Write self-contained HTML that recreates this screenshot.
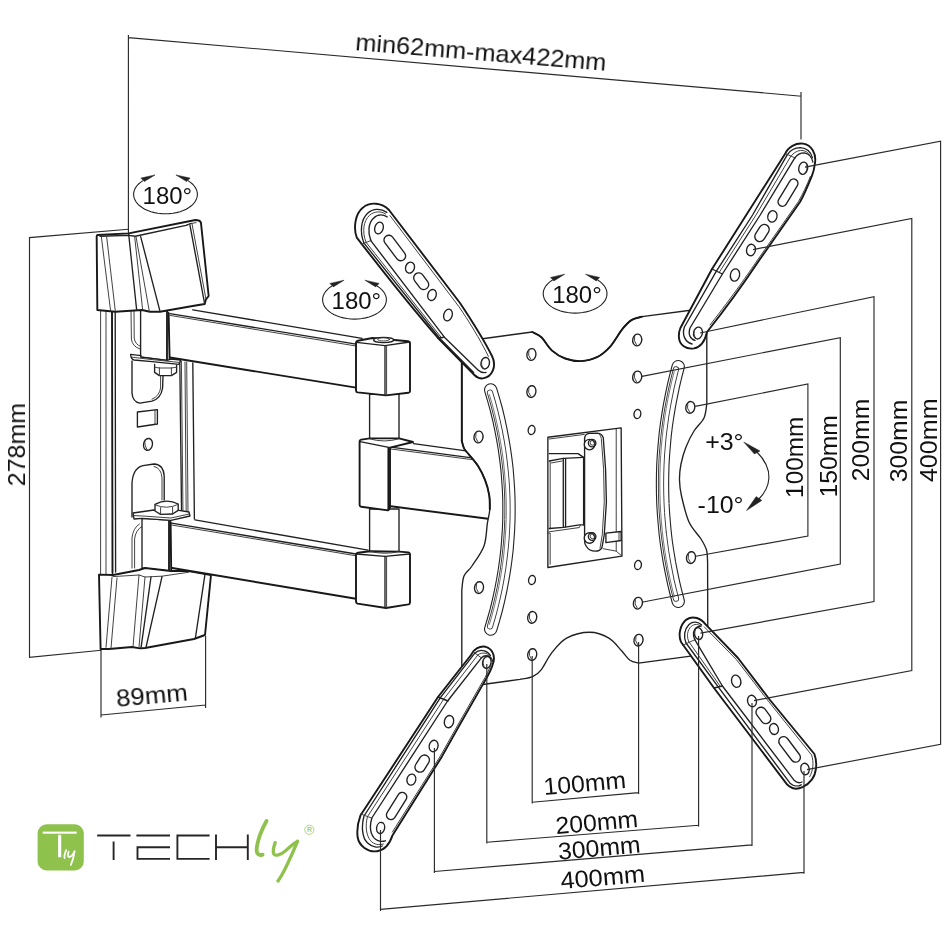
<!DOCTYPE html>
<html><head><meta charset="utf-8">
<style>
html,body{margin:0;padding:0;background:#fff;}
body{width:945px;height:945px;overflow:hidden;font-family:"Liberation Sans",sans-serif;}
svg{display:block;position:absolute;left:0;top:0;}
.k{fill:none;stroke:#181818;stroke-width:1.9;stroke-linejoin:round;stroke-linecap:round;vector-effect:non-scaling-stroke;}
.m{fill:none;stroke:#202020;stroke-width:1.35;stroke-linejoin:round;stroke-linecap:round;vector-effect:non-scaling-stroke;}
.t{fill:none;stroke:#383838;stroke-width:0.95;stroke-linejoin:round;stroke-linecap:round;vector-effect:non-scaling-stroke;}
.d{fill:none;stroke:#2a2a2a;stroke-width:1.15;vector-effect:non-scaling-stroke;}
.w{fill:#fff;}
text{font-family:"Liberation Sans",sans-serif;fill:#111;}
#labels,#logo{opacity:0.999;}
</style></head>
<body>
<svg width="945" height="945" viewBox="0 0 945 945">
<rect width="945" height="945" fill="#fff"/>
<g id="bracket">
<!-- body verticals (actual coords) -->
<path class="t" d="M100.6,310 L100.6,575 M106,310 L106,575"/>
<path class="k" d="M112,310 L112.5,573"/>
<path class="m" d="M115.2,311 L115.6,572"/>
<path class="m" d="M179.8,361 L181.6,517"/>
<path class="t" d="M181.4,361 L183,516 M185,362 L186.2,515 M186.7,362 L188,514"/>
<path class="m" d="M192.8,363 L194.4,519"/>
<!-- tile B : origin 85,300 -->
<g transform="translate(85,300) scale(0.2)">
 <!-- upper U slot behind pivot -->
 <path class="t" d="M230,50 L232,195 Q236,232 275,245"/>
 <path class="t" d="M245,50 L246,190 Q250,222 278,232"/>
 <!-- upper pivot block -->
 <path class="m w" d="M278,50 L410,50 L410,302 L278,285 Z"/>
 <path class="k" d="M410,50 L410,302"/>
 <!-- tab plate -->
 <path class="m w" d="M228,272 L280,278 L278,286 L410,302 L430,296 L478,300 L470,322 L335,308 L245,300 Q230,296 228,272 Z"/>
 <path class="t" d="M236,286 L335,298 L470,312"/>
 <!-- lower U slot under tab -->
 <path class="m" d="M235,305 L235,465 Q238,510 275,516 L335,506 Q380,492 388,440 L390,380"/>
 <path class="t" d="M378,380 L378,440 Q372,480 335,496"/>
 <!-- nut -->
 <path class="m w" d="M348,322 L348,362 L372,378 L432,378 L458,362 L458,326"/>
 <path class="t" d="M372,338 L372,378 M432,338 L432,378 M348,336 L372,340 L432,340 L458,336"/>
 <!-- small rect -->
 <path class="m" d="M262,560 L362,548 L362,620 L262,635 Z"/>
 <path class="t" d="M350,550 L350,621"/>
 <!-- small hole -->
 <ellipse class="m" cx="315" cy="722" rx="22" ry="30" transform="rotate(12 315 722)"/>
 <path class="t" d="M300,700 Q296,730 312,750"/>
</g>
<!-- tile C : origin 85,440 -->
<g transform="translate(85,440) scale(0.2)">
 <!-- lower inverted U slot -->
 <path class="m" d="M235,385 L235,215 Q240,140 290,128 L345,120 Q392,122 396,180 L396,300"/>
 <path class="t" d="M385,300 L385,190 Q382,140 345,132"/>
 <!-- lower behind slot -->
 <path class="t" d="M235,640 L235,490 Q240,440 272,420"/>
 <path class="t" d="M248,640 L248,495 Q252,452 285,432"/>
 <!-- lower pivot block -->
 <path class="m w" d="M285,392 L420,400 L420,655 L285,640 Z"/>
 <path class="k" d="M420,400 L420,655"/>
 <!-- tab plate -->
 <path class="m w" d="M240,365 L345,350 L470,352 L520,360 L525,380 L430,402 L285,392 L245,395 Z"/>
 <path class="t" d="M245,378 L290,380 L430,390 L522,370"/>
 <!-- nut -->
 <path class="m w" d="M350,322 L350,355 L378,372 L438,370 L466,352 L466,320 Q408,290 350,322 Z"/>
 <path class="t" d="M350,324 Q408,350 466,322 M378,338 L378,372 M438,336 L438,370"/>
</g>
<!-- top cap : origin 90,212 scale 1/7.5 -->
<g transform="translate(90,212) scale(0.13333)">
 <path class="k w" d="M58,172 Q50,174 50,184 L55,735 L190,748 L390,735 L450,748 L525,748 L770,705 L860,690 L870,655 L890,630 L832,80 Q825,60 790,60 L290,160 Z"/>
 <path class="m" d="M75,182 L290,175 L340,182 L720,100 L760,86"/>
 <path class="t" d="M85,185 L155,745 M125,185 L190,745"/>
 <path class="m" d="M290,165 L350,735"/>
 <path class="t" d="M335,185 L395,735 M345,185 L445,745"/>
 <path class="m" d="M380,185 L525,745"/>
 <path class="m" d="M750,100 L860,690"/>
 <path class="t" d="M765,88 L870,655 M722,100 L760,86 L795,80"/>
</g>
<!-- bottom cap : tile D origin 85,545 -->
<g transform="translate(85,545) scale(0.2)">
 <path class="k w" d="M70,148 L140,150 L270,125 L300,115 L430,130 L520,130 L630,150 L600,450 L545,470 L300,515 L275,517 L235,510 L120,520 L78,520 Z"/>
 <path class="t" d="M140,158 L270,150 L300,160 L385,156 L520,136"/>
 <path class="t" d="M135,160 L105,512 M160,165 L130,516 M270,150 L240,510 M300,160 L270,512"/>
 <path class="m" d="M330,160 L280,514 M385,158 L305,512"/>
 <path class="m" d="M600,146 L552,465"/>
</g>
</g>

<g id="arms">
<!-- upper arm (actual coords) -->
<path class="w" stroke="none" d="M170,314 L192.8,309.8 L362,338.3 L362,388 L356,388 L170,357.5 Z"/>
<path class="m" d="M192.8,309.8 L362,338.3"/>
<path class="m" d="M170,313.6 L356,344.2"/>
<path class="t" d="M170,315.4 L356,346"/>
<path class="k" d="M170,357.5 L356,387.6"/>
<path class="k" d="M168.6,313 L169.6,359"/>
<path class="t" d="M167,312.5 L167.2,359"/>
<!-- lower arm -->
<path class="w" stroke="none" d="M171.6,523.6 L195,519.9 L368,550.2 L368,598 L356,598.7 L172.2,568 Z"/>
<path class="m" d="M195,519.9 L368,550.2"/>
<path class="m" d="M171.6,523.2 L356,554"/>
<path class="t" d="M171.6,525 L356,555.8"/>
<path class="k" d="M172.2,568 L356,598.7"/>
<path class="k" d="M170.6,522 L171.2,570.5"/>
<path class="t" d="M168.8,521.5 L169,570.5"/>
<!-- middle arm -->
<path class="w" stroke="none" d="M390.8,447.5 L413.5,443.7 L470,451.3 L490,520 L390.8,506.3 Z"/>
<path class="m" d="M413.5,443.7 L466,450.8"/>
<path class="m" d="M390.8,447.2 L472,457.8"/>
<path class="t" d="M390.8,449 L472,459.6"/>
<path class="k" d="M390.8,506.3 L490,519"/>
<!-- elbow: tile E origin 250,290 -->
<g transform="translate(250,290) scale(0.2)">
 <!-- shaft upper -->
 <path class="w m" d="M598,520 L598,748 Q670,772 745,748 L745,520 Z"/>
 <!-- upper block -->
 <path class="w k" d="M530,264 Q530,256 540,254 L612,240 L790,256 Q800,258 800,268 L800,506 Q800,512 792,514 L680,527 L538,512 Q530,510 530,502 Z"/>
 <path class="m" d="M532,262 L675,278 L798,260"/>
 <path class="m" d="M675,278 L675,527"/>
 <path class="t" d="M683,278 L683,526"/>
 <ellipse class="m w" cx="668" cy="250" rx="50" ry="13"/>
 <ellipse class="t" cx="668" cy="247" rx="30" ry="8"/>
</g>
<!-- tile F origin 250,430 -->
<g transform="translate(250,430) scale(0.2)">
 <!-- lower shaft -->
 <path class="w m" d="M598,395 L598,606 Q670,628 745,606 L745,395 Z"/>
 <!-- middle block -->
 <path class="w k" d="M548,56 Q548,50 556,48 L600,42 L745,42 L815,60 L700,88 L700,388 L690,402 L556,384 Q548,382 548,374 Z"/>
 <path class="m" d="M550,58 L700,88"/>
 <path class="k" d="M692,90 L692,400"/>
 <path class="t" d="M598,44 Q670,66 745,44"/>
 <!-- lower block -->
 <path class="w k" d="M530,624 Q530,616 540,614 L600,606 L745,608 L792,612 Q800,614 800,622 L800,862 Q800,870 792,872 L680,890 L538,868 Q530,866 530,858 Z"/>
 <path class="m" d="M532,620 L675,632 L798,620"/>
 <path class="m" d="M675,632 L675,888"/>
 <path class="t" d="M683,632 L683,888"/>
 <path class="t" d="M598,606 Q670,626 745,608"/>
</g>
</g>

<g id="plate">
<path class="m w" d="M466,341 L532.2,332 C533.7,332.9 538.1,334.2 541.4,337.3 C544.7,340.4 548.0,347.1 552.0,350.6 C556.0,354.1 560.4,356.8 565.2,358.5 C570.1,360.2 575.8,361.3 581.1,361.1 C586.4,360.9 592.1,359.6 597.0,357.2 C601.9,354.8 606.0,351.2 610.2,346.6 C614.4,342.0 618.6,333.8 622.1,329.4 C625.6,325.0 628.1,322.2 631.4,320.1 C634.7,318.0 640.2,317.3 642.0,316.7 L700,309 Q706.8,308.5 706.8,316 L706.8,404 C706.3,406.3 706.1,413.5 704.0,418.0 C701.9,422.5 697.0,426.2 694.0,431.0 C691.0,435.8 688.2,441.5 686.0,447.0 C683.8,452.5 682.1,458.5 681.0,464.0 C679.9,469.5 679.4,474.7 679.5,480.0 C679.6,485.3 679.9,489.0 681.5,496.0 C683.1,503.0 685.8,514.8 689.0,522.0 C692.2,529.2 698.1,534.3 701.0,539.0 C703.9,543.7 705.4,546.2 706.5,550.0 C707.6,553.8 707.4,560.0 707.6,562.0 L707.8,648 Q707.8,654 700,654.8 L638.5,663.1 C637.1,662.6 632.8,662.3 630.0,660.3 C627.2,658.2 625.1,654.5 621.6,650.8 C618.1,647.1 614.2,641.2 608.9,638.1 C603.6,635.0 596.8,632.2 589.8,632.2 C582.8,632.2 573.0,634.7 566.6,638.1 C560.2,641.5 555.9,647.6 551.7,652.9 C547.5,658.2 544.4,665.8 541.2,669.8 C538.0,673.8 536.2,675.0 532.7,676.6 C529.2,678.2 522.1,678.9 520.0,679.4 L468,686.5 Q461.8,687 461.8,680 L461.8,590 C462.2,587.7 462.3,580.0 464.0,576.0 C465.7,572.0 468.7,571.0 472.0,566.0 C475.3,561.0 481.4,553.1 484.0,546.0 C486.6,538.9 486.4,529.2 487.4,523.1 C488.4,517.0 489.5,513.9 489.8,509.2 C490.1,504.5 490.0,500.0 489.2,495.2 C488.4,490.4 487.0,485.0 485.1,480.1 C483.2,475.2 480.8,470.4 478.1,466.1 C475.4,461.8 471.1,457.3 468.8,454.4 C466.5,451.5 465.4,450.8 464.2,448.6 C463.0,446.4 462.2,442.3 461.8,441.0 L461.8,347 Q461.8,341.5 466,341 Z"/>
<path class="k" d="M532.2,332.0 C533.7,332.9 538.1,334.2 541.4,337.3 C544.7,340.4 548.0,347.1 552.0,350.6 C556.0,354.1 560.4,356.8 565.2,358.5 C570.1,360.2 575.8,361.3 581.1,361.1 C586.4,360.9 592.1,359.6 597.0,357.2 C601.9,354.8 606.0,351.2 610.2,346.6 C614.4,342.0 618.6,333.8 622.1,329.4 C625.6,325.0 628.1,322.2 631.4,320.1 C634.7,318.0 640.2,317.3 642.0,316.7"/>
<path class="k" d="M489.8,509.2 C489.7,506.9 490.0,500.0 489.2,495.2 C488.4,490.4 487.0,485.0 485.1,480.1 C483.2,475.2 480.8,470.4 478.1,466.1 C475.4,461.8 471.1,457.3 468.8,454.4 C466.5,451.5 465.4,450.8 464.2,448.6 C463.0,446.4 462.2,442.3 461.8,441.0"/>
<path class="k" d="M461.8,441 L461.8,347 Q461.8,341.5 466,341"/>
<path d="M490.7,389.9 L493.6,399.6 L496.3,409.3 L498.7,419.2 L500.8,429.1 L502.7,439.0 L504.4,449.0 L505.8,459.0 L507.0,469.1 L507.8,479.2 L508.5,489.3 L508.9,499.4 L509.0,509.5 L508.9,519.6 L508.5,529.7 L507.8,539.8 L507.0,549.9 L505.8,560.0 L504.4,570.0 L502.7,580.0 L500.8,589.9 L498.7,599.8 L496.3,609.7 L493.6,619.4 L490.7,629.1" fill="none" stroke="#222" stroke-width="13.4" stroke-linecap="round"/>
<path d="M490.7,389.9 L493.6,399.6 L496.3,409.3 L498.7,419.2 L500.8,429.1 L502.7,439.0 L504.4,449.0 L505.8,459.0 L507.0,469.1 L507.8,479.2 L508.5,489.3 L508.9,499.4 L509.0,509.5 L508.9,519.6 L508.5,529.7 L507.8,539.8 L507.0,549.9 L505.8,560.0 L504.4,570.0 L502.7,580.0 L500.8,589.9 L498.7,599.8 L496.3,609.7 L493.6,619.4 L490.7,629.1" fill="none" stroke="#fff" stroke-width="11.2" stroke-linecap="round"/>
<path d="M490.0,392.6 L492.8,402.0 L495.3,411.6 L497.6,421.2 L499.7,430.9 L501.5,440.6 L503.1,450.4 L504.4,460.2 L505.5,470.0 L506.4,479.9 L507.0,489.7 L507.4,499.6 L507.5,509.5 L507.4,519.4 L507.0,529.3 L506.4,539.1 L505.5,549.0 L504.4,558.8 L503.1,568.6 L501.5,578.4 L499.7,588.1 L497.6,597.8 L495.3,607.4 L492.8,617.0 L490.0,626.4" fill="none" stroke="#333" stroke-width="6.2" stroke-linecap="round"/>
<path d="M490.0,392.6 L492.8,402.0 L495.3,411.6 L497.6,421.2 L499.7,430.9 L501.5,440.6 L503.1,450.4 L504.4,460.2 L505.5,470.0 L506.4,479.9 L507.0,489.7 L507.4,499.6 L507.5,509.5 L507.4,519.4 L507.0,529.3 L506.4,539.1 L505.5,549.0 L504.4,558.8 L503.1,568.6 L501.5,578.4 L499.7,588.1 L497.6,597.8 L495.3,607.4 L492.8,617.0 L490.0,626.4" fill="none" stroke="#fff" stroke-width="4.4" stroke-linecap="round"/>
<path d="M489.4,394.6 L492.1,403.9 L494.6,413.3 L496.8,422.8 L498.8,432.3 L500.5,441.8 L502.1,451.4 L503.4,461.0 L504.4,470.7 L505.2,480.4 L505.8,490.1 L506.2,499.8 L506.3,509.5 L506.2,519.2 L505.8,528.9 L505.2,538.6 L504.4,548.3 L503.4,558.0 L502.1,567.6 L500.5,577.2 L498.8,586.7 L496.8,596.2 L494.6,605.7 L492.1,615.1 L489.4,624.4" fill="none" stroke="#555" stroke-width="0.8" stroke-linecap="round"/>
<path d="M678.2,601.3 L675.7,591.7 L673.4,582.1 L671.4,572.4 L669.5,562.7 L667.9,553.0 L666.4,543.2 L665.2,533.4 L664.3,523.5 L663.5,513.7 L662.9,503.8 L662.6,493.9 L662.5,484.0 L662.6,474.1 L662.9,464.2 L663.5,454.3 L664.3,444.5 L665.2,434.6 L666.4,424.8 L667.9,415.0 L669.5,405.3 L671.4,395.6 L673.4,385.9 L675.7,376.3 L678.2,366.7" fill="none" stroke="#222" stroke-width="13.4" stroke-linecap="round"/>
<path d="M678.2,601.3 L675.7,591.7 L673.4,582.1 L671.4,572.4 L669.5,562.7 L667.9,553.0 L666.4,543.2 L665.2,533.4 L664.3,523.5 L663.5,513.7 L662.9,503.8 L662.6,493.9 L662.5,484.0 L662.6,474.1 L662.9,464.2 L663.5,454.3 L664.3,444.5 L665.2,434.6 L666.4,424.8 L667.9,415.0 L669.5,405.3 L671.4,395.6 L673.4,385.9 L675.7,376.3 L678.2,366.7" fill="none" stroke="#fff" stroke-width="11.2" stroke-linecap="round"/>
<path d="M676.0,598.7 L673.6,589.3 L671.4,579.9 L669.5,570.4 L667.7,560.9 L666.1,551.4 L664.8,541.8 L663.6,532.2 L662.7,522.6 L661.9,513.0 L661.4,503.3 L661.1,493.7 L661.0,484.0 L661.1,474.3 L661.4,464.7 L661.9,455.0 L662.7,445.4 L663.6,435.8 L664.8,426.2 L666.1,416.6 L667.7,407.1 L669.5,397.6 L671.4,388.1 L673.6,378.7 L676.0,369.3" fill="none" stroke="#333" stroke-width="6.2" stroke-linecap="round"/>
<path d="M676.0,598.7 L673.6,589.3 L671.4,579.9 L669.5,570.4 L667.7,560.9 L666.1,551.4 L664.8,541.8 L663.6,532.2 L662.7,522.6 L661.9,513.0 L661.4,503.3 L661.1,493.7 L661.0,484.0 L661.1,474.3 L661.4,464.7 L661.9,455.0 L662.7,445.4 L663.6,435.8 L664.8,426.2 L666.1,416.6 L667.7,407.1 L669.5,397.6 L671.4,388.1 L673.6,378.7 L676.0,369.3" fill="none" stroke="#fff" stroke-width="4.4" stroke-linecap="round"/>
<path d="M674.2,596.4 L671.9,587.2 L669.8,578.0 L667.9,568.7 L666.2,559.4 L664.7,550.1 L663.4,540.7 L662.3,531.3 L661.4,521.8 L660.7,512.4 L660.2,502.9 L659.9,493.5 L659.8,484.0 L659.9,474.5 L660.2,465.1 L660.7,455.6 L661.4,446.2 L662.3,436.7 L663.4,427.3 L664.7,417.9 L666.2,408.6 L667.9,399.3 L669.8,390.0 L671.9,380.8 L674.2,371.6" fill="none" stroke="#555" stroke-width="0.8" stroke-linecap="round"/>
<ellipse class="m" cx="531.4" cy="354.5" rx="4.5" ry="5.9" transform="rotate(10 531.4 354.5)"/>
<path class="t" d="M528.8,350.9 Q527.4,355.5 530.6,359.1" stroke-width="0.6"/>
<ellipse class="m" cx="531.4" cy="391.6" rx="4.5" ry="5.9" transform="rotate(10 531.4 391.6)"/>
<path class="t" d="M528.8,388.0 Q527.4,392.6 530.6,396.2" stroke-width="0.6"/>
<ellipse class="m" cx="532.2" cy="617.4" rx="4.5" ry="5.9" transform="rotate(10 532.2 617.4)"/>
<path class="t" d="M529.6,613.8 Q528.2,618.4 531.4,622.0" stroke-width="0.6"/>
<ellipse class="m" cx="532.2" cy="654.6" rx="4.5" ry="5.9" transform="rotate(10 532.2 654.6)"/>
<path class="t" d="M529.6,651.0 Q528.2,655.6 531.4,659.2" stroke-width="0.6"/>
<ellipse class="m" cx="637.2" cy="340" rx="4.5" ry="5.9" transform="rotate(10 637.2 340)"/>
<path class="t" d="M634.6,336.4 Q633.2,341.0 636.4,344.6" stroke-width="0.6"/>
<ellipse class="m" cx="637.2" cy="377" rx="4.5" ry="5.9" transform="rotate(10 637.2 377)"/>
<path class="t" d="M634.6,373.4 Q633.2,378.0 636.4,381.6" stroke-width="0.6"/>
<ellipse class="m" cx="637.9" cy="603.2" rx="4.5" ry="5.9" transform="rotate(10 637.9 603.2)"/>
<path class="t" d="M635.3,599.6 Q633.9,604.2 637.1,607.8" stroke-width="0.6"/>
<ellipse class="m" cx="638.5" cy="640.2" rx="4.5" ry="5.9" transform="rotate(10 638.5 640.2)"/>
<path class="t" d="M635.9,636.6 Q634.5,641.2 637.7,644.8" stroke-width="0.6"/>
<ellipse class="m" cx="478.5" cy="437" rx="4.5" ry="5.9" transform="rotate(10 478.5 437)"/>
<path class="t" d="M475.9,433.4 Q474.5,438.0 477.7,441.6" stroke-width="0.6"/>
<ellipse class="m" cx="479" cy="587.6" rx="4.5" ry="5.9" transform="rotate(10 479 587.6)"/>
<path class="t" d="M476.4,584.0 Q475.0,588.6 478.2,592.2" stroke-width="0.6"/>
<ellipse class="m" cx="690.3" cy="407.4" rx="4.5" ry="5.9" transform="rotate(10 690.3 407.4)"/>
<path class="t" d="M687.7,403.8 Q686.3,408.4 689.5,412.0" stroke-width="0.6"/>
<ellipse class="m" cx="691" cy="557.6" rx="4.5" ry="5.9" transform="rotate(10 691 557.6)"/>
<path class="t" d="M688.4,554.0 Q687.0,558.6 690.2,562.2" stroke-width="0.6"/>
<ellipse class="m" cx="531.6" cy="430" rx="3.4" ry="4.6" transform="rotate(10 531.6 430)"/>
<ellipse class="m" cx="532" cy="580" rx="3.4" ry="4.6" transform="rotate(10 532 580)"/>
<ellipse class="m" cx="637.4" cy="414" rx="3.4" ry="4.6" transform="rotate(10 637.4 414)"/>
<ellipse class="m" cx="638" cy="565" rx="3.4" ry="4.6" transform="rotate(10 638 565)"/>
<g transform="translate(540,420) scale(0.16393)">
<path class="m" d="M48,105 L495,48 L500,830 L48,900 Z"/>
<path class="t" d="M56,116 L270,88 M465,56 L465,800 L500,830 M465,800 L385,785"/>
<path class="t" d="M48,690 L62,690 L62,880"/>
<!-- inner block -->
<path class="m" d="M56,205 L232,205 L266,228 L266,640"/>
<path class="m" d="M56,250 L142,234 L266,228"/>
<path class="m" d="M142,234 L142,655 M156,236 L156,652"/>
<path class="t" d="M62,255 L62,665 M70,262 L135,250"/>
<path class="m" d="M56,662 L145,655 L240,640 L266,640"/>
<path class="t" d="M56,682 L240,656 L246,642"/>
<!-- lever -->
<path class="m w" d="M272,112 Q274,86 300,82 L350,80 Q378,82 386,108 L400,300 L405,500 L392,700 L378,778 Q365,800 338,800 Q300,800 282,770 Q272,755 272,738 Z"/>
<path class="t" d="M356,82 Q372,92 374,112 L388,300 L392,500 L380,700 L366,782"/>
<circle class="m w" cx="302" cy="150" r="32"/><circle class="m" cx="318" cy="141" r="23"/><circle class="t" cx="321" cy="139" r="15"/>
<circle class="m w" cx="302" cy="720" r="32"/><circle class="m" cx="318" cy="711" r="23"/><circle class="t" cx="321" cy="709" r="15"/>
<path class="m w" d="M402,690 L495,680 L495,735 L402,748 Z"/>
<path class="t" d="M482,682 L482,737"/>
</g>
</g>

<g id="ext">
<!-- UL arm : tile M origin 340,190 -->
<g transform="translate(340,190) scale(0.2)">
 <path class="k w" d="M84,238 C66,190 75,120 115,88 C150,58 210,62 245,100 L600,565 C650,640 715,740 760,830 C785,880 762,935 715,942 C695,944 683,936 672,925 L490,740 C400,636 240,440 84,238 Z"/>
 <!-- cap arcs + inner lines -->
 <path class="m" d="M120,266 C98,210 104,148 138,116 C164,92 204,90 234,112"/>
 <path class="t" d="M130,261 C110,210 116,156 148,126 C172,106 204,104 228,120"/>
 <path class="m" d="M154,253 C138,210 142,166 166,142 C186,122 212,120 236,134"/>
 <path class="m" d="M120,266 L502,745 L668,912"/>
 <path class="t" d="M130,261 L510,742"/>
 <path class="m" d="M154,253 L522,736 L690,900 C700,910 715,915 730,912"/>
 <path class="m" d="M490,740 L522,736"/>
 <path class="t" d="M106,272 L156,252"/>
 <path class="t" d="M250,128 L596,585 C640,650 700,745 742,832"/>
 <!-- holes -->
 <ellipse class="m" cx="195" cy="190" rx="21" ry="30" transform="rotate(18 195 190)"/>
 <rect class="m" x="-74" y="-24" width="148" height="48" rx="24" transform="translate(274,290) rotate(53)"/>
 <ellipse class="m" cx="350" cy="388" rx="22" ry="28" transform="rotate(18 350 388)"/>
 <rect class="m" x="-46" y="-25" width="92" height="50" rx="25" transform="translate(406,456) rotate(53)"/>
 <ellipse class="m" cx="460" cy="525" rx="21" ry="28" transform="rotate(18 460 525)"/>
 <ellipse class="m" cx="540" cy="625" rx="21" ry="30" transform="rotate(18 540 625)"/>
 <ellipse class="m" cx="726" cy="866" rx="21" ry="29" transform="rotate(12 726 866)"/>
 <path class="t" d="M710,850 C704,870 710,890 724,896"/>
</g>
<!-- UR arm : tile N origin 660,130 -->
<g transform="translate(660,130) scale(0.2)">
 <path class="k w" d="M625,120 C640,85 680,63 715,68 C760,75 782,120 775,165 C772,190 768,208 760,228 C745,265 720,325 700,360 L490,660 C450,720 370,840 235,1010 C225,1055 205,1085 170,1092 C130,1098 98,1075 95,1040 C93,1020 96,1004 102,990 L260,695 Z"/>
 <!-- inner lines -->
 <path class="m" d="M636,124 L463,425 L282,706 L122,985 C110,1020 122,1060 160,1070"/>
 <path class="t" d="M653,133 L480,425 L296,712"/>
 <path class="m" d="M674,139 L501,425 L312,720 L150,990 C140,1020 150,1045 175,1052"/>
 <!-- cap arcs -->
 <path class="m" d="M636,124 C650,102 676,88 702,88 C732,90 754,110 762,138"/>
 <path class="t" d="M653,133 C668,112 690,102 710,102 C728,104 740,112 746,124"/>
 <path class="m" d="M674,139 C686,122 704,114 722,114 C744,118 760,136 764,160"/>
 <path class="t" d="M628,118 L676,140"/>
 <path class="m" d="M260,695 L312,720"/>
 <path class="t" d="M752,232 C738,268 712,325 692,358 L484,655 C445,712 370,822 250,975"/>
 <ellipse class="m" cx="716" cy="191" rx="22" ry="31" transform="rotate(12 716 191)"/>
 <path class="t" d="M732,172 C738,190 734,208 722,218"/>
 <rect class="m" x="-76" y="-22" width="152" height="44" rx="22" transform="translate(640,313) rotate(121.2)"/>
 <ellipse class="m" cx="562" cy="432" rx="23" ry="29" transform="rotate(15 562 432)"/>
 <rect class="m" x="-46" y="-25" width="92" height="50" rx="25" transform="translate(510,515) rotate(121.6)"/>
 <ellipse class="m" cx="455" cy="600" rx="22" ry="29" transform="rotate(12 455 600)"/>
 <ellipse class="m" cx="375" cy="725" rx="23" ry="31" transform="rotate(12 375 725)"/>
 <ellipse class="m" cx="190" cy="1015" rx="22" ry="30" transform="rotate(12 190 1015)"/>
 <path class="t" d="M172,1000 C166,1020 172,1040 188,1046"/>
</g>
<!-- LL arm : tile P origin 340,640 -->
<g transform="translate(340,640) scale(0.2)">
 <path class="k w" d="M655,75 C668,45 700,28 728,34 C760,42 775,75 768,108 C760,140 740,180 720,212 L600,422 L510,582 L262,978 C248,1020 225,1050 185,1056 C140,1062 95,1030 88,985 C84,950 90,910 102,878 L490,285 Z"/>
 <path class="m" d="M674,66 L502,288 L120,880 C106,930 110,990 138,1015 C160,1036 190,1040 212,1030"/>
 <path class="t" d="M690,74 L519,295 L137,884 C126,930 130,975 153,1004 C170,1022 195,1028 217,1020"/>
 <path class="m" d="M707,89 L538,305 L159,890 C148,930 150,965 169,988 C185,1006 205,1010 227,1004"/>
 <path class="m" d="M674,66 C686,54 706,50 722,54 C736,58 746,66 752,78"/>
 <path class="t" d="M690,74 C700,66 716,63 730,67 C738,70 744,74 748,80"/>
 <path class="m" d="M707,89 C716,80 732,76 746,82 C756,88 762,96 764,108"/>
 <path class="t" d="M664,58 L708,90"/>
 <path class="t" d="M104,870 L160,891"/>
 <path class="m" d="M490,285 L540,305"/>
 <path class="t" d="M756,118 C748,145 730,182 712,210 L592,420 L502,580 L262,960"/>
 <ellipse class="m" cx="734" cy="112" rx="21" ry="30" transform="rotate(12 734 112)"/>
 <path class="t" d="M718,97 C712,117 718,137 732,144"/>
 <ellipse class="m" cx="545" cy="408" rx="23" ry="31" transform="rotate(14 545 408)"/>
 <ellipse class="m" cx="468" cy="530" rx="22" ry="29" transform="rotate(14 468 530)"/>
 <rect class="m" x="-46" y="-25" width="92" height="50" rx="25" transform="translate(411,618) rotate(122)"/>
 <ellipse class="m" cx="357" cy="698" rx="22" ry="28" transform="rotate(14 357 698)"/>
 <rect class="m" x="-76" y="-23" width="152" height="46" rx="23" transform="translate(283,830) rotate(122)"/>
 <ellipse class="m" cx="203" cy="940" rx="20" ry="28" transform="rotate(12 203 940)"/>
</g>
<!-- LR arm : tile R origin 650,600 -->
<g transform="translate(650,600) scale(0.2)">
 <path class="k w" d="M155,210 C140,175 150,125 182,98 C215,75 255,92 278,122 L440,290 L600,500 L822,770 C838,816 832,866 810,897 C785,931 742,952 712,940 C700,935 692,930 685,922 L320,440 Z"/>
 <path class="m" d="M180,215 L342,436 L700,916 C715,930 738,934 756,924"/>
 <path class="m" d="M224,198 L362,430 L722,903 C734,914 748,916 760,910"/>
 <path class="m" d="M180,215 C166,185 172,145 195,122 C215,105 242,108 258,125"/>
 <path class="m" d="M224,198 C212,176 216,150 232,138 C240,132 248,130 254,132"/>
 <path class="m" d="M320,440 L362,430"/>
 <path class="t" d="M194,208 L352,433"/>
 <path class="t" d="M194,208 C182,184 186,150 206,132 C222,118 242,120 256,132"/>
 <path class="t" d="M164,226 L226,198"/>
 <path class="t" d="M272,135 L432,298 L592,506 L808,775 C820,812 816,855 798,884"/>
 <ellipse class="m" cx="242" cy="168" rx="21" ry="30" transform="rotate(-12 242 168)"/>
 <path class="t" d="M226,152 C220,172 226,192 240,198"/>
 <ellipse class="m" cx="431" cy="406" rx="23" ry="31" transform="rotate(-14 431 406)"/>
 <ellipse class="m" cx="510" cy="505" rx="22" ry="29" transform="rotate(-14 510 505)"/>
 <rect class="m" x="-45" y="-25" width="90" height="50" rx="25" transform="translate(567,577) rotate(53)"/>
 <ellipse class="m" cx="620" cy="645" rx="22" ry="28" transform="rotate(-14 620 645)"/>
 <rect class="m" x="-74" y="-24" width="148" height="48" rx="24" transform="translate(698,747) rotate(53)"/>
 <ellipse class="m" cx="775" cy="845" rx="21" ry="29" transform="rotate(-12 775 845)"/>
</g>
</g>

<g id="dims" class="d">
<!-- top -->
<path d="M128.4,35 L128.4,233.5 M128.4,37.6 L801.5,96.2 M801,92 L801,139.5"/>
<!-- left 278 -->
<path d="M128.4,229.3 L29.5,237.6 L29.5,657.3 L101.3,650.3"/>
<!-- 89 -->
<path d="M101,649.5 L101,717.5 M205.6,636 L205.6,708 M101,715 L205.6,705"/>
<!-- bottom -->
<path d="M532.2,656 L532.2,803.5 M638.6,642 L638.6,794 M532.2,802.3 L638.6,792.6"/>
<path d="M486.8,664 L486.8,843.5 M698.6,636 L698.6,826.5 M486.8,842.2 L698.6,825.2"/>
<path d="M434.4,748 L434.4,873 M752,703 L752,846 M434.4,871.5 L752,844.9"/>
<path d="M380.5,830 L380.5,911 M804,771 L804,873.8 M380.5,909.4 L804,872.4"/>
<!-- right -->
<path d="M695.2,406.4 L807.9,384 L807.9,536 L695.8,556.3"/>
<path d="M642,376.4 L840.3,337.6 L840.3,564 L643,602"/>
<path d="M700,333 L874,296.6 L874,601.6 L700.5,633.1"/>
<path d="M753,249.6 L911.8,218.4 L911.8,670.6 L754,700.6"/>
<path d="M805,167.1 L940.6,141.2 L940.6,744.2 L807,769.6"/>
</g>

<g id="labels">
<text x="0" y="0" font-size="24" textLength="251.7" lengthAdjust="spacingAndGlyphs" transform="translate(354.9,50.11) rotate(4.7)">min62mm-max422mm</text>
<text x="0" y="0" font-size="24" textLength="83.4" lengthAdjust="spacingAndGlyphs" transform="translate(25.0,486.3) rotate(-90)">278mm</text>
<text x="0" y="0" font-size="24" textLength="71.7" lengthAdjust="spacingAndGlyphs" transform="translate(116.9,706.9) rotate(-5.2)">89mm</text>
<text x="0" y="0" font-size="24" textLength="82.7" lengthAdjust="spacingAndGlyphs" transform="translate(544.2,795.1) rotate(-5)">100mm</text>
<text x="0" y="0" font-size="24" textLength="82.7" lengthAdjust="spacingAndGlyphs" transform="translate(556.3,834.1) rotate(-5)">200mm</text>
<text x="0" y="0" font-size="24" textLength="82.7" lengthAdjust="spacingAndGlyphs" transform="translate(558.8,859.7) rotate(-5)">300mm</text>
<text x="0" y="0" font-size="24" textLength="84.7" lengthAdjust="spacingAndGlyphs" transform="translate(561.2,889.1) rotate(-5)">400mm</text>
<text x="0" y="0" font-size="24" textLength="81.2" lengthAdjust="spacingAndGlyphs" transform="translate(803.3,497.9) rotate(-90)">100mm</text>
<text x="0" y="0" font-size="24" textLength="82.2" lengthAdjust="spacingAndGlyphs" transform="translate(836.5,497.4) rotate(-90)">150mm</text>
<text x="0" y="0" font-size="24" textLength="82.7" lengthAdjust="spacingAndGlyphs" transform="translate(869.4,481.3) rotate(-90)">200mm</text>
<text x="0" y="0" font-size="24" textLength="82.7" lengthAdjust="spacingAndGlyphs" transform="translate(907.2,482.3) rotate(-90)">300mm</text>
<text x="0" y="0" font-size="24" textLength="83.7" lengthAdjust="spacingAndGlyphs" transform="translate(936.9,482.1) rotate(-90)">400mm</text>
<text x="0" y="0" font-size="24" textLength="38.4" lengthAdjust="spacingAndGlyphs" transform="translate(705.2,449.7) rotate(0)">+3°</text>
<text x="0" y="0" font-size="24" textLength="46.0" lengthAdjust="spacingAndGlyphs" transform="translate(697.6,512.5) rotate(0)">-10°</text>
<path d="M188.00,180.65 L190.50,182.35 L192.66,184.23 L194.44,186.24 L195.82,188.37 L196.78,190.58 L197.30,192.84 L197.38,195.13 L197.01,197.41 L196.21,199.64 L194.99,201.80 L193.35,203.86 L191.33,205.79 L188.94,207.56 L186.24,209.14 L183.24,210.52 L180.00,211.68 L176.55,212.60 L172.95,213.26 L169.25,213.67 L165.50,213.80 L161.75,213.67 L158.05,213.26 L154.45,212.60 L151.00,211.68 L147.76,210.52 L144.76,209.14 L142.06,207.56 L139.67,205.79 L137.65,203.86 L136.01,201.80 L134.79,199.64 L133.99,197.41 L133.62,195.13 L133.70,192.84 L134.22,190.58 L135.18,188.37 L136.56,186.24 L138.34,184.23 L140.50,182.35 L143.00,180.65" fill="none" stroke="#222" stroke-width="1.1"/>
<path d="M155.1,174.9 L140.9,178.1 L144.3,181.6 Z" fill="#222" stroke="#222" stroke-width="0.5" stroke-linejoin="round"/>
<path d="M175.9,174.9 L190.1,178.1 L186.7,181.6 Z" fill="#222" stroke="#222" stroke-width="0.5" stroke-linejoin="round"/>
<text x="0" y="0" font-size="24" textLength="49.6" lengthAdjust="spacingAndGlyphs" transform="translate(142.6,203.8) rotate(0)">180°</text>
<path d="M377.00,285.95 L379.50,287.65 L381.66,289.53 L383.44,291.54 L384.82,293.67 L385.78,295.88 L386.30,298.14 L386.38,300.43 L386.01,302.71 L385.21,304.94 L383.99,307.10 L382.35,309.16 L380.33,311.09 L377.94,312.86 L375.24,314.44 L372.24,315.82 L369.00,316.98 L365.55,317.90 L361.95,318.56 L358.25,318.97 L354.50,319.10 L350.75,318.97 L347.05,318.56 L343.45,317.90 L340.00,316.98 L336.76,315.82 L333.76,314.44 L331.06,312.86 L328.67,311.09 L326.65,309.16 L325.01,307.10 L323.79,304.94 L322.99,302.71 L322.62,300.43 L322.70,298.14 L323.22,295.88 L324.18,293.67 L325.56,291.54 L327.34,289.53 L329.50,287.65 L332.00,285.95" fill="none" stroke="#222" stroke-width="1.1"/>
<path d="M344.1,280.2 L329.9,283.4 L333.3,286.9 Z" fill="#222" stroke="#222" stroke-width="0.5" stroke-linejoin="round"/>
<path d="M364.9,280.2 L379.1,283.4 L375.7,286.9 Z" fill="#222" stroke="#222" stroke-width="0.5" stroke-linejoin="round"/>
<text x="0" y="0" font-size="24" textLength="49.6" lengthAdjust="spacingAndGlyphs" transform="translate(331.6,309.1) rotate(0)">180°</text>
<path d="M597.60,279.95 L600.10,281.65 L602.26,283.53 L604.04,285.54 L605.42,287.67 L606.38,289.88 L606.90,292.14 L606.98,294.43 L606.61,296.71 L605.81,298.94 L604.59,301.10 L602.95,303.16 L600.93,305.09 L598.54,306.86 L595.84,308.44 L592.84,309.82 L589.60,310.98 L586.15,311.90 L582.55,312.56 L578.85,312.97 L575.10,313.10 L571.35,312.97 L567.65,312.56 L564.05,311.90 L560.60,310.98 L557.36,309.82 L554.36,308.44 L551.66,306.86 L549.27,305.09 L547.25,303.16 L545.61,301.10 L544.39,298.94 L543.59,296.71 L543.22,294.43 L543.30,292.14 L543.82,289.88 L544.78,287.67 L546.16,285.54 L547.94,283.53 L550.10,281.65 L552.60,279.95" fill="none" stroke="#222" stroke-width="1.1"/>
<path d="M564.7,274.2 L550.5,277.4 L553.9,280.9 Z" fill="#222" stroke="#222" stroke-width="0.5" stroke-linejoin="round"/>
<path d="M585.5,274.2 L599.7,277.4 L596.3,280.9 Z" fill="#222" stroke="#222" stroke-width="0.5" stroke-linejoin="round"/>
<text x="0" y="0" font-size="24" textLength="49.6" lengthAdjust="spacingAndGlyphs" transform="translate(552.2,303.1) rotate(0)">180°</text>
<path d="M756.5,451.5 C766,461 769.3,470 768.9,478 C768.5,486 765,493 758.5,499.5" fill="none" stroke="#222" stroke-width="1.1"/>
<path d="M743.8,442.1 L754.4,454 L760,451 Z" fill="#222" stroke="#222" stroke-width="0.5" stroke-linejoin="round"/>
<path d="M746.5,510.6 L756.2,496.6 L761.8,500.4 Z" fill="#222" stroke="#222" stroke-width="0.5" stroke-linejoin="round"/>
</g>

<g id="logo">
<rect x="37.6" y="824.3" width="46.2" height="46.2" rx="9" ry="9" fill="#8ec24c"/>
<rect x="42.7" y="831.6" width="34" height="2.1" fill="#fff"/>
<rect x="58.1" y="834.8" width="3.1" height="22.4" fill="#fff"/>
<g fill="none" stroke="#fff" stroke-width="1.8" stroke-linecap="round" stroke-linejoin="round">
<path d="M66.2,850.2 C65,853 64,856 64.6,858"/>
<path d="M68.6,851.6 C68,854 67.4,856.8 69,857 C71,857 73.4,854 74.6,851.2 C74,856 72.6,861 70.8,865"/>
</g>
<g fill="none" stroke="#262626" stroke-width="1.9" stroke-linecap="butt" stroke-linejoin="miter">
<path d="M97.2,835.5 L130.5,835.5 M113.6,841.4 L113.6,859.9"/>
<path d="M136.4,835.5 L170,835.5 M170,847.2 L137.5,847.2 L137.5,858.9 L170,858.9"/>
<path d="M209.6,835.5 L177.4,835.5 L177.4,858.9 L209.6,858.9"/>
<path d="M216,834.6 L216,859.9 M247.8,834.6 L247.8,859.9 M216,847.2 L247.8,847.2"/>
</g>
<g fill="none" stroke="#8ec24c" stroke-linecap="round" stroke-linejoin="round">
<path d="M266.5,821 C262,829 258.4,838 257,846 C256,852 257,856.4 262.6,854.6" stroke-width="3.8"/>
<path d="M275.2,842.6 C274,846 272.6,851 273.6,853.6 C275,856.6 281,855 286,850.4 C290,846.6 294,843 297.4,841.4" stroke-width="3.3"/>
<path d="M297.6,841.2 C294,850 290,859 286,867 C283.4,872.4 280.6,877.4 278,881" stroke-width="3.3"/>
</g>
<circle cx="309.3" cy="829.8" r="4.6" fill="none" stroke="#a9d07a" stroke-width="0.9"/>
<text x="306.9" y="832.4" font-size="7" fill="#a9d07a" style="fill:#a9d07a;font-weight:bold">R</text>
</g>

</svg>
</body></html>
